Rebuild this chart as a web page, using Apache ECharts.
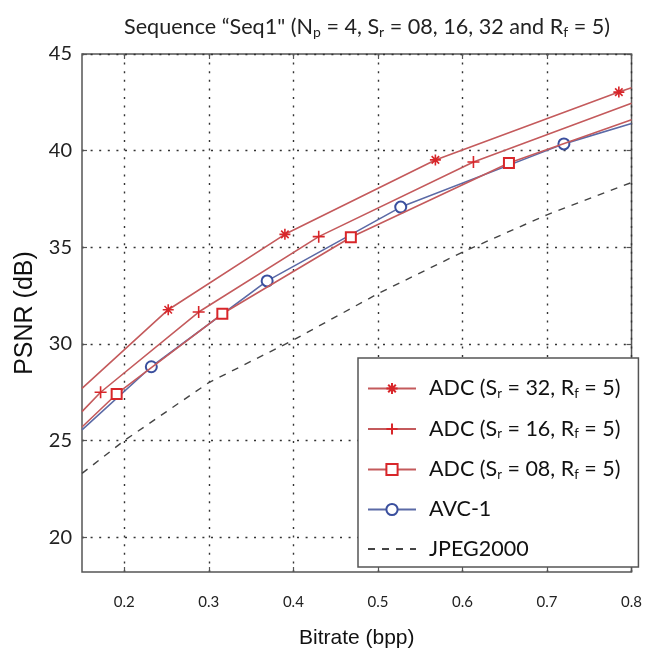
<!DOCTYPE html>
<html><head><meta charset="utf-8">
<script src="https://cdn.jsdelivr.net/npm/echarts@6/dist/echarts.min.js"></script>
<style>html,body{margin:0;padding:0;background:#fff}#c{width:645px;height:657px}</style>
</head><body><div id="c"></div>
<script>
// ---- data ----
const xTicks = [0.2, 0.3, 0.4, 0.5, 0.6, 0.7, 0.8];
const yTicks = [20, 25, 30, 35, 40, 45];
const seriesNames = ['ADC (Sr = 32, Rf = 5)', 'ADC (Sr = 16, Rf = 5)', 'ADC (Sr = 08, Rf = 5)', 'AVC-1', 'JPEG2000'];
// first and last points of the ADC/AVC curves sit at the plot edges (no marker there)
const adc32X = [0.15, 0.252, 0.390, 0.568, 0.785, 0.80];
const adc32Y = [27.7, 31.77, 35.67, 39.52, 43.03, 43.25];
const adc16X = [0.15, 0.172, 0.288, 0.430, 0.613, 0.80];
const adc16Y = [26.5, 27.5, 31.65, 35.55, 39.41, 42.45];
const adc08X = [0.15, 0.191, 0.316, 0.468, 0.655, 0.80];
const adc08Y = [25.7, 27.41, 31.56, 35.52, 39.36, 41.6];
const avcX = [0.15, 0.232, 0.369, 0.527, 0.720, 0.80];
const avcY = [25.55, 28.82, 33.26, 37.08, 40.35, 41.4];
const jpegX = [0.15, 0.2, 0.25, 0.3, 0.4, 0.5, 0.6, 0.7, 0.8];
const jpegY = [23.3, 25.0, 26.5, 28.0, 30.2, 32.6, 34.75, 36.68, 38.35];

function pts(xs, ys, edgeNoSymbol) {
  return xs.map((x, i) => (edgeNoSymbol && (i === 0 || i === xs.length - 1)) ? {value: [x, ys[i]], symbol: 'none'} : [x, ys[i]]);
}
const RED_LINE = '#c45a5c', RED_MK = '#d8262a', BLUE_LINE = '#5b6aa6', BLUE_MK = '#3a4f9e';
const ASTER = 'path://M0,5L10,5M5,0L5,10M1.6,1.6L8.4,8.4M8.4,1.6L1.6,8.4';
const PLUS = 'path://M0,5L10,5M5,0L5,10';
const FONT = 'Lato';

function sub(name) {
  // turn "Sr" / "Rf" into subscripted rich text
  return name.replace(/\bS([r])\b/g, '{n|S}{s|r}').replace(/\bR([f])\b/g, '{n|R}{s|f}')
    .split(/(\{[ns]\|[^}]*\})/).map(t => t === '' ? '' : (t.startsWith('{') ? t : '{n|' + t + '}')).join('');
}

const gridLine = {show: true, lineStyle: {color: '#333', width: 1.4, type: [2, 6.6]}};
const chart = echarts.init(document.getElementById('c'), null, {renderer: 'canvas'});
chart.setOption({
  animation: false,
  backgroundColor: '#fff',
  title: {
    left: 119, top: 7,
    text: '{n|Sequence \u201CSeq1" (N}{s|p}{n| = 4, S}{s|r}{n| = 08, 16, 32 and R}{s|f}{n| = 5)}',
    textStyle: {fontWeight: 'normal', rich: {
      n: {fontFamily: FONT, fontSize: 21.6, fontWeight: 'normal', color: '#222', lineHeight: 30},
      s: {fontFamily: FONT, fontSize: 14, fontWeight: 'normal', color: '#222', lineHeight: 30, padding: [10, 0, 0, 0]}
    }}
  },
  grid: {left: 82, right: 3, top: 54, bottom: 85, show: true, borderColor: '#555', borderWidth: 1.5, backgroundColor: 'transparent'},
  xAxis: [{
    type: 'value', min: 0.15, max: 0.8,
    name: 'Bitrate (bpp)', nameLocation: 'middle', nameGap: 56,
    nameTextStyle: {fontFamily: 'Liberation Sans', fontSize: 21, color: '#111'},
    axisLine: {show: false},
    axisTick: {show: true, inside: true, length: 5, customValues: xTicks, lineStyle: {color: '#555', width: 1.2}},
    axisLabel: {customValues: xTicks, margin: 23, fontFamily: FONT, fontSize: 15, color: '#222', formatter: v => v.toFixed(1)},
    splitLine: gridLine
  }, {
    type: 'value', min: 0.15, max: 0.8, position: 'top',
    axisLine: {show: false}, axisLabel: {show: false}, splitLine: {show: false},
    axisTick: {show: true, inside: true, length: 5, customValues: xTicks, lineStyle: {color: '#555', width: 1.2}}
  }],
  yAxis: [{
    type: 'value', min: 18.2, max: 45,
    name: 'PSNR (dB)', nameLocation: 'middle', nameGap: 42, nameRotate: 90,
    nameTextStyle: {fontFamily: 'Liberation Sans', fontSize: 25, color: '#111'},
    axisLine: {show: false},
    axisTick: {show: true, inside: true, length: 5, customValues: yTicks, lineStyle: {color: '#555', width: 1.2}},
    axisLabel: {customValues: yTicks, margin: 10, fontFamily: FONT, fontSize: 20, color: '#222'},
    splitLine: gridLine
  }, {
    type: 'value', min: 18.2, max: 45, position: 'right',
    axisLine: {show: false}, axisLabel: {show: false}, splitLine: {show: false},
    axisTick: {show: true, inside: true, length: 5, customValues: yTicks, lineStyle: {color: '#555', width: 1.2}}
  }],
  legend: {
    orient: 'vertical', left: 358, top: 358,
    backgroundColor: '#fff', borderColor: '#555', borderWidth: 1.5,
    padding: [19, 18, 7, 9], itemGap: 17.5, itemWidth: 48, itemHeight: 14,
    data: seriesNames,
    formatter: name => sub(name),
    textStyle: {rich: {
      n: {fontFamily: FONT, fontSize: 21.5, color: '#111', lineHeight: 27},
      s: {fontFamily: FONT, fontSize: 13, color: '#111', lineHeight: 27, padding: [10, 0, 0, 0]}
    }, padding: [0, 0, 0, 8]}
  },
  series: [
    {name: seriesNames[0], type: 'line', data: pts(adc32X, adc32Y, true), symbol: ASTER, symbolSize: 11, showAllSymbol: true,
     lineStyle: {color: RED_LINE, width: 1.6}, itemStyle: {color: RED_MK, borderColor: RED_MK, borderWidth: 1.6}, z: 5},
    {name: seriesNames[1], type: 'line', data: pts(adc16X, adc16Y, true), symbol: PLUS, symbolSize: 12, showAllSymbol: true,
     lineStyle: {color: RED_LINE, width: 1.6}, itemStyle: {color: RED_MK, borderColor: RED_MK, borderWidth: 1.6}, z: 5},
    {name: seriesNames[2], type: 'line', data: pts(adc08X, adc08Y, true), symbol: 'emptyRect', symbolSize: 10, showAllSymbol: true,
     lineStyle: {color: RED_LINE, width: 1.6}, itemStyle: {color: RED_MK, borderWidth: 1.4}, z: 5},
    {name: seriesNames[3], type: 'line', data: pts(avcX, avcY, true), symbol: 'emptyCircle', symbolSize: 11, showAllSymbol: true,
     lineStyle: {color: BLUE_LINE, width: 1.6}, itemStyle: {color: BLUE_MK, borderWidth: 1.4}, z: 4},
    {name: seriesNames[4], type: 'line', data: pts(jpegX, jpegY, false), symbol: 'none',
     lineStyle: {color: '#444', width: 1.4, type: [7, 7]},
     itemStyle: {color: 'rgba(0,0,0,0)', borderColor: 'rgba(0,0,0,0)', borderWidth: 0}, z: 3}
  ]
});
</script>
</body></html>
